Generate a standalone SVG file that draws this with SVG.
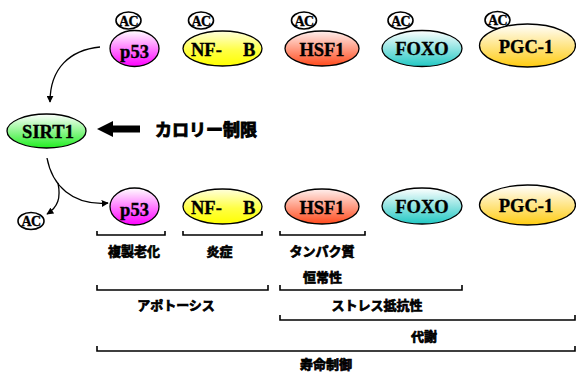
<svg xmlns="http://www.w3.org/2000/svg" width="576" height="372" viewBox="0 0 576 372">
<defs>
<linearGradient id="gP53" x1="0" y1="0" x2="0" y2="1"><stop offset="0" stop-color="#ffffff"/><stop offset="1" stop-color="#ff00ff"/></linearGradient>
<linearGradient id="gNF" x1="0" y1="0" x2="0" y2="1"><stop offset="0" stop-color="#ffffdd"/><stop offset="0.55" stop-color="#ffff44"/><stop offset="1" stop-color="#ffff00"/></linearGradient>
<linearGradient id="gHSF" x1="0" y1="0" x2="0" y2="1"><stop offset="0" stop-color="#fff0ee"/><stop offset="1" stop-color="#ff4a1c"/></linearGradient>
<linearGradient id="gFOXO" x1="0" y1="0" x2="0" y2="1"><stop offset="0" stop-color="#ffffff"/><stop offset="1" stop-color="#22c8c4"/></linearGradient>
<linearGradient id="gPGC" x1="0" y1="0" x2="0" y2="1"><stop offset="0" stop-color="#ffffff"/><stop offset="1" stop-color="#ffcc11"/></linearGradient>
<linearGradient id="gSIRT" x1="0" y1="0" x2="0" y2="1"><stop offset="0" stop-color="#ffffff"/><stop offset="1" stop-color="#22ee22"/></linearGradient>
<marker id="ah" viewBox="0 0 10 10" refX="9" refY="5" markerWidth="7" markerHeight="7" markerUnits="userSpaceOnUse" orient="auto"><path d="M0,0 L10,5 L0,10 z" fill="#000"/></marker>
</defs>
<style>
.nd{stroke:#000;stroke-width:1.3}
.lb{font-family:"Liberation Serif","Times New Roman",serif;font-weight:bold;font-size:18.5px;fill:#000;text-anchor:middle;stroke:#000;stroke-width:0.35}
.lbs{font-family:"Liberation Serif","Times New Roman",serif;font-weight:bold;font-size:18.5px;fill:#000;text-anchor:start;stroke:#000;stroke-width:0.35}
.ac{fill:#fff;stroke:#000;stroke-width:1.6}
.act{font-family:"Liberation Serif","Times New Roman",serif;font-weight:bold;font-size:14px;fill:#000;text-anchor:middle;stroke:#000;stroke-width:0.35;letter-spacing:-0.6px}
.jp{font-family:"Noto Sans CJK JP","Noto Sans",sans-serif;font-weight:bold;font-size:13px;fill:#000;text-anchor:middle;stroke:#000;stroke-width:0.7}
.jps{font-family:"Noto Sans CJK JP","Noto Sans",sans-serif;font-weight:bold;font-size:17px;fill:#000;text-anchor:start;stroke:#000;stroke-width:0.9}
.br{fill:none;stroke:#000;stroke-width:1.6}
.cn{fill:none;stroke:#000;stroke-width:1.3}
</style>
<rect width="576" height="372" fill="#fff"/>

<g id="ac-top-p53"><ellipse class="ac" cx="128.5" cy="20.5" rx="12.5" ry="8.5"/><text class="act" x="128.5" y="25.5">AC</text></g>
<g id="ac-top-nf"><ellipse class="ac" cx="201" cy="20.5" rx="12.5" ry="8.5"/><text class="act" x="201" y="25.5">AC</text></g>
<g id="ac-top-hsf"><ellipse class="ac" cx="304" cy="20.5" rx="12.5" ry="8.5"/><text class="act" x="304" y="25.5">AC</text></g>
<g id="ac-top-foxo"><ellipse class="ac" cx="400.5" cy="20.5" rx="12.5" ry="8.5"/><text class="act" x="400.5" y="25.5">AC</text></g>
<g id="ac-top-pgc"><ellipse class="ac" cx="497.5" cy="20" rx="12.5" ry="8.5"/><text class="act" x="497.5" y="25">AC</text></g>

<g id="p53-top"><ellipse class="nd" cx="134.5" cy="48.5" rx="24.5" ry="18" fill="url(#gP53)"/><text class="lb" x="134.5" y="58">p53</text></g>
<g id="nfkb-top"><ellipse class="nd" cx="222.5" cy="48.5" rx="39.5" ry="17.5" fill="url(#gNF)"/><text class="lbs" x="191" y="56">NF-<tspan x="243">B</tspan></text></g>
<g id="hsf1-top"><ellipse class="nd" cx="322" cy="48.5" rx="37" ry="17.5" fill="url(#gHSF)"/><text class="lb" x="322" y="56">HSF1</text></g>
<g id="foxo-top"><ellipse class="nd" cx="422" cy="48.5" rx="40" ry="18" fill="url(#gFOXO)"/><text class="lb" x="422" y="55">FOXO</text></g>
<g id="pgc1-top"><ellipse class="nd" cx="527.5" cy="45.5" rx="48" ry="21.5" fill="url(#gPGC)"/><text class="lb" x="526" y="53">PGC-1</text></g>

<g id="sirt1"><ellipse class="nd" cx="46.5" cy="131" rx="39.5" ry="17" fill="url(#gSIRT)"/><text class="lb" x="48" y="138">SIRT1</text></g>

<g id="calorie">
<polygon points="97,129 113,121 113,125.5 140,125.5 140,132.5 113,132.5 113,137" fill="#000"/>
<text class="jps" x="155" y="136">カロリー制限</text>
</g>

<g id="connectors">
<path class="cn" d="M100,47 C70,50 50,68 50,102" marker-end="url(#ah)"/>
<path class="cn" d="M47,158 C52,185 72,206 108,203" marker-end="url(#ah)"/>
<path class="cn" d="M58,183 C61,198 58,207 47,214" marker-end="url(#ah)"/>
</g>

<g id="ac-bottom"><ellipse class="ac" cx="31" cy="221" rx="13" ry="8.5"/><text class="act" x="31" y="226">AC</text></g>

<g id="p53-bot"><ellipse class="nd" cx="134.5" cy="206.5" rx="24.5" ry="18.5" fill="url(#gP53)"/><text class="lb" x="134.5" y="216">p53</text></g>
<g id="nfkb-bot"><ellipse class="nd" cx="222.5" cy="206.5" rx="39.5" ry="17.5" fill="url(#gNF)"/><text class="lbs" x="191" y="214">NF-<tspan x="243">B</tspan></text></g>
<g id="hsf1-bot"><ellipse class="nd" cx="322" cy="206.5" rx="37" ry="17.5" fill="url(#gHSF)"/><text class="lb" x="322" y="214">HSF1</text></g>
<g id="foxo-bot"><ellipse class="nd" cx="422" cy="206" rx="40" ry="18" fill="url(#gFOXO)"/><text class="lb" x="422" y="213">FOXO</text></g>
<g id="pgc1-bot"><ellipse class="nd" cx="527.5" cy="205" rx="48" ry="20" fill="url(#gPGC)"/><text class="lb" x="526" y="212">PGC-1</text></g>

<g id="brackets">
<path class="br" d="M97,231 V235 H165 V231"/>
<path class="br" d="M183,231 V235 H262 V231"/>
<path class="br" d="M280,231 V235 H365 V231"/>
<path class="br" d="M97,285 V290 H268 V285"/>
<path class="br" d="M280,285 V290 H462 V285"/>
<path class="br" d="M280,315 V320 H575 V315"/>
<path class="br" d="M97,346 V351 H575 V346"/>
</g>

<g id="labels">
<text class="jp" x="134" y="256">複製老化</text>
<text class="jp" x="219.5" y="256">炎症</text>
<text class="jp" x="322" y="256">タンパク質</text>
<text class="jp" x="322.5" y="282">恒常性</text>
<text class="jp" x="176" y="310">アポトーシス</text>
<text class="jp" x="377" y="310">ストレス抵抗性</text>
<text class="jp" x="424" y="341">代謝</text>
<text class="jp" x="326" y="369">寿命制御</text>
</g>
</svg>
